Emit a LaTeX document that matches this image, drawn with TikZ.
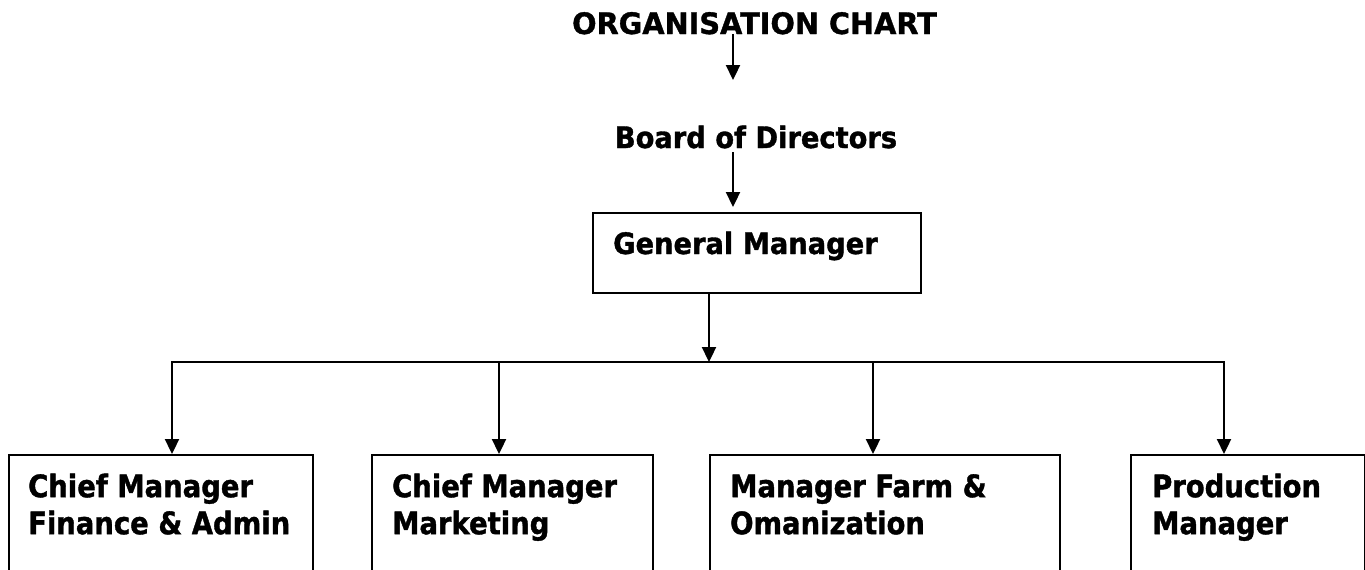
\documentclass[tikz,border=0pt]{standalone}
\usepackage{fontspec}
\setmainfont{DejaVu Sans}[FakeStretch=0.885, FakeBold=1.2]
\newfontfamily\titlefont{DejaVu Sans}[FakeStretch=0.975, FakeBold=1.2]
\newfontfamily\headfont{DejaVu Sans}[FakeStretch=0.925, FakeBold=1.2]
\usetikzlibrary{arrows.meta}

\tikzset{
  conn/.style={line width=2.3pt, line join=miter},
  arr/.style={conn, -{Triangle[length=15pt,width=14pt]}},
  box/.style={draw, line width=1.8pt, rectangle, inner sep=0pt},
  headtext/.style={inner sep=0pt, font=\headfont\bfseries\fontsize{29.5}{35}\selectfont},
  unittext/.style={inner sep=0pt, align=left, anchor=north west,
                   font=\bfseries\fontsize{31}{37}\selectfont},
}
\newcommand{\firstline}{\rule{0pt}{24pt}}

\begin{document}
\begin{tikzpicture}[x=1pt, y=-1pt]
  \useasboundingbox (0,0) rectangle (1365,570);
  \clip (0,0) rectangle (1365,570);

  % heading and board
  \node[headtext, font=\titlefont\bfseries\fontsize{29.5}{35}\selectfont, anchor=base]
    (title) at (754.5,34) {ORGANISATION CHART};
  \node[headtext, anchor=base] (board) at (756,148) {Board of Directors};

  % general manager
  \node[box, anchor=north west, minimum width=328pt, minimum height=80pt] (gm) at (592,212) {};
  \node[headtext, anchor=base west] (gmtext) at (613,254) {General Manager};

  % department boxes (run off the lower edge)
  \node[box, anchor=north west, minimum width=304pt, minimum height=160pt] (b1) at (8,454) {};
  \node[box, anchor=north west, minimum width=281pt, minimum height=160pt] (b2) at (371,454) {};
  \node[box, anchor=north west, minimum width=350pt, minimum height=160pt] (b3) at (709,454) {};
  \node[box, anchor=north west, minimum width=234pt, minimum height=160pt] (b4) at (1130,454) {};

  \node[unittext] (t1) at ([shift={(20,19)}]b1.north west) {\firstline Chief Manager\\Finance \& Admin};
  \node[unittext] (t2) at ([shift={(21,19)}]b2.north west) {\firstline Chief Manager\\Marketing};
  \node[unittext] (t3) at ([shift={(21,19)}]b3.north west) {\firstline Manager Farm \&\\Omanization};
  \node[unittext] (t4) at ([shift={(22,19)}]b4.north west) {\firstline Production\\Manager};

  % connector points
  \coordinate (a1) at (733,80);
  \coordinate (a2) at (733,207);
  \coordinate (hub) at (709,362);
  \coordinate (j1) at (172,362);
  \coordinate (j2) at (499,362);
  \coordinate (j3) at (873,362);
  \coordinate (j4) at (1224,362);

  % connectors
  \draw[arr] (title.base -| a1) -- (a1);
  \draw[arr] ([shift={(0,4)}]board.base -| a2) -- (a2);
  \draw[arr] (gm.south -| hub) -- (hub);
  \draw[arr] (hub) -- (j1) -- (j1 |- b1.north);
  \draw[arr] (hub) -- (j4) -- (j4 |- b4.north);
  \draw[arr] (j2) -- (j2 |- b2.north);
  \draw[arr] (j3) -- (j3 |- b3.north);
\end{tikzpicture}
\end{document}
